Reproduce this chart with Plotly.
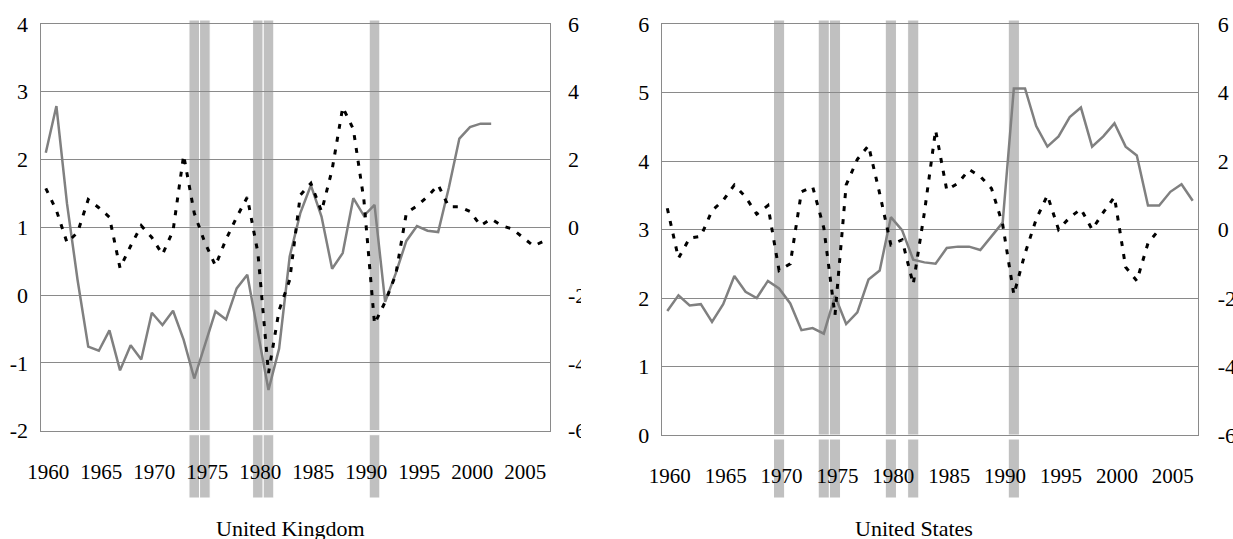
import plotly.graph_objects as go

# ---------------- data ----------------
years = list(range(1960, 2008))

uk_solid = [2.10, 2.79, 1.35, 0.22, -0.76, -0.82, -0.52, -1.11, -0.74, -0.95,
            -0.26, -0.44, -0.23, -0.66, -1.23, -0.74, -0.24, -0.36, 0.10, 0.30,
            -0.58, -1.40, -0.79, 0.57, 1.21, 1.62, 1.16, 0.39, 0.62, 1.43,
            1.17, 1.33, -0.10, 0.32, 0.80, 1.02, 0.95, 0.93, 1.58, 2.31,
            2.48, 2.53, 2.53]
uk_dashed = [1.15, 0.50, -0.45, -0.15, 0.82, 0.58, 0.30, -1.20, -0.55, 0.05,
             -0.30, -0.80, -0.10, 2.13, 0.42, -0.45, -1.13, -0.35, 0.30, 0.89,
             -0.75, -4.30, -2.45, -1.55, 0.95, 1.30, 0.47, 1.70, 3.54, 2.90,
             0.80, -2.85, -2.20, -1.40, 0.42, 0.63, 0.91, 1.25, 0.61, 0.61,
             0.47, 0.05, 0.25, 0.05, -0.05, -0.30, -0.55, -0.40]

us_solid = [1.81, 2.04, 1.89, 1.91, 1.65, 1.91, 2.32, 2.09, 2.00, 2.25,
            2.14, 1.92, 1.53, 1.56, 1.48, 2.03, 1.62, 1.79, 2.27, 2.40,
            3.18, 2.99, 2.56, 2.52, 2.50, 2.73, 2.75, 2.75, 2.70, 2.90,
            3.10, 5.06, 5.06, 4.51, 4.21, 4.36, 4.64, 4.78, 4.21, 4.36,
            4.55, 4.21, 4.08, 3.35, 3.35, 3.55, 3.66, 3.42]
us_dashed = [0.62, -0.84, -0.25, -0.20, 0.55, 0.85, 1.30, 0.95, 0.45, 0.70,
             -1.20, -1.00, 1.10, 1.25, 0.05, -2.50, 1.30, 2.05, 2.45, 1.05,
             -0.45, -0.30, -1.60, 0.50, 2.90, 1.15, 1.35, 1.75, 1.55, 1.20,
             0.15, -1.90, -0.70, 0.30, 1.00, 0.00, 0.35, 0.60, 0.00, 0.50,
             0.95, -1.10, -1.50, -0.40, 0.00]

uk_recessions = [1974, 1975, 1980, 1981, 1991]
us_recessions = [1970, 1974, 1975, 1980, 1982, 1991]

tick_years = [1960, 1965, 1970, 1975, 1980, 1985, 1990, 1995, 2000, 2005]
tick_text = ["1960", "1965", "1970", "1975", "1980", "1985", "1990", "1995", "2000", "2005"]
uk_left_ticks = [-2, -1, 0, 1, 2, 3, 4]
uk_left_text = ["-2", "-1", "0", "1", "2", "3", "4"]
right_ticks = [-6, -4, -2, 0, 2, 4, 6]
right_text = ["-6", "-4", "-2", "0", "2", "4", "6"]
us_left_ticks = [0, 1, 2, 3, 4, 5, 6]
us_left_text = ["0", "1", "2", "3", "4", "5", "6"]
titles = ["United Kingdom", "United States"]

# ---------------- styling / geometry ----------------
W, H = 1233, 539
FONT = "Liberation Serif, Times New Roman, serif"
GRID = "#8a8a8a"
SOLID = "#808080"
BAR = "#c0c0c0"
LABEL_SHIFT = 0.22
X_RANGE = [1959.5, 2007.5]


def fx(px):
    return px / W


def fy(py):
    return 1 - py / H


uk_box = dict(l=40.5, r=549.5, t=24, b=430.7)
us_box = dict(l=661.7, r=1198.3, t=24, b=435)

fig = go.Figure()

fig.add_trace(go.Scatter(x=years[:len(uk_solid)], y=uk_solid, mode="lines",
                         line=dict(color=SOLID, width=2.5), xaxis="x", yaxis="y"))
fig.add_trace(go.Scatter(x=years[:len(uk_dashed)], y=uk_dashed, mode="lines",
                         line=dict(color="black", width=3, dash="5px,8px"),
                         xaxis="x", yaxis="y2"))
fig.add_trace(go.Scatter(x=years[:len(us_solid)], y=us_solid, mode="lines",
                         line=dict(color=SOLID, width=2.5), xaxis="x2", yaxis="y3"))
fig.add_trace(go.Scatter(x=years[:len(us_dashed)], y=us_dashed, mode="lines",
                         line=dict(color="black", width=3, dash="5px,8px"),
                         xaxis="x2", yaxis="y4"))

tickfont = dict(family=FONT, size=22, color="black")
xfont = dict(family=FONT, size=21, color="black")


def xaxis_cfg(box, anchor):
    return dict(domain=[fx(box["l"]), fx(box["r"])], range=X_RANGE,
                anchor=anchor, showgrid=False, zeroline=False, showline=True,
                mirror=True,
                linecolor=GRID, linewidth=1, ticks="", automargin=False,
                tickvals=[y + LABEL_SHIFT for y in tick_years], ticktext=tick_text,
                tickfont=xfont, ticklabelstandoff=22, fixedrange=True)


def yleft_cfg(box, anchor, rng, vals, text):
    return dict(domain=[fy(box["b"]), fy(box["t"])], range=rng, anchor=anchor,
                showgrid=True, gridcolor=GRID, gridwidth=1, zeroline=False,
                showline=True, linecolor=GRID, linewidth=1, ticks="",
                automargin=False,
                tickvals=vals, ticktext=text, tickfont=tickfont,
                ticklabelstandoff=7, fixedrange=True)


def yright_cfg(over, anchor, standoff):
    return dict(overlaying=over, side="right", anchor=anchor, range=[-6, 6],
                showgrid=False, zeroline=False, showline=True, linecolor=GRID,
                linewidth=1, ticks="", automargin=False,
                tickvals=right_ticks, ticktext=right_text,
                tickfont=tickfont, ticklabelstandoff=standoff, fixedrange=True)


shapes = []


def recession_shapes(recs, xref, box):
    zero_px = (box["t"] + box["b"]) / 2.0
    segs = [(20, zero_px), (zero_px, box["b"]), (box["b"] + 4, 498)]
    for yr in recs:
        for top, bot in segs:
            shapes.append(dict(type="rect", xref=xref, yref="paper",
                               x0=yr - 0.5, x1=yr + 0.5, y0=fy(bot), y1=fy(top),
                               fillcolor=BAR, line=dict(color="white", width=1),
                               layer="between"))


recession_shapes(uk_recessions, "x", uk_box)
recession_shapes(us_recessions, "x2", us_box)

# crop of the left chart's right-hand labels (as in the source image)
shapes.append(dict(type="rect", xref="paper", yref="paper",
                   x0=fx(581), x1=fx(626), y0=fy(520), y1=fy(0),
                   fillcolor="white", line=dict(width=0), layer="above"))

annotations = [
    dict(text=titles[0], x=fx(290), y=fy(528), xref="paper", yref="paper",
         xanchor="center", yanchor="middle", showarrow=False,
         font=dict(family=FONT, size=22, color="black")),
    dict(text=titles[1], x=fx(914), y=fy(528), xref="paper", yref="paper",
         xanchor="center", yanchor="middle", showarrow=False,
         font=dict(family=FONT, size=22, color="black")),
]

fig.update_layout(
    width=W, height=H, autosize=False,
    margin=dict(l=0, r=0, t=0, b=0, pad=0),
    paper_bgcolor="white", plot_bgcolor="rgba(0,0,0,0)",
    showlegend=False,
    xaxis=xaxis_cfg(uk_box, "y"),
    yaxis=yleft_cfg(uk_box, "x", [-2, 4], uk_left_ticks, uk_left_text),
    yaxis2=yright_cfg("y", "x", 13),
    xaxis2=xaxis_cfg(us_box, "y3"),
    yaxis3=yleft_cfg(us_box, "x2", [0, 6], us_left_ticks, us_left_text),
    yaxis4=yright_cfg("y3", "x2", 14),
    shapes=shapes,
    annotations=annotations,
)

fig.write_html("out.html", config={"displayModeBar": False},
               post_script="document.body.style.margin='0px';")
